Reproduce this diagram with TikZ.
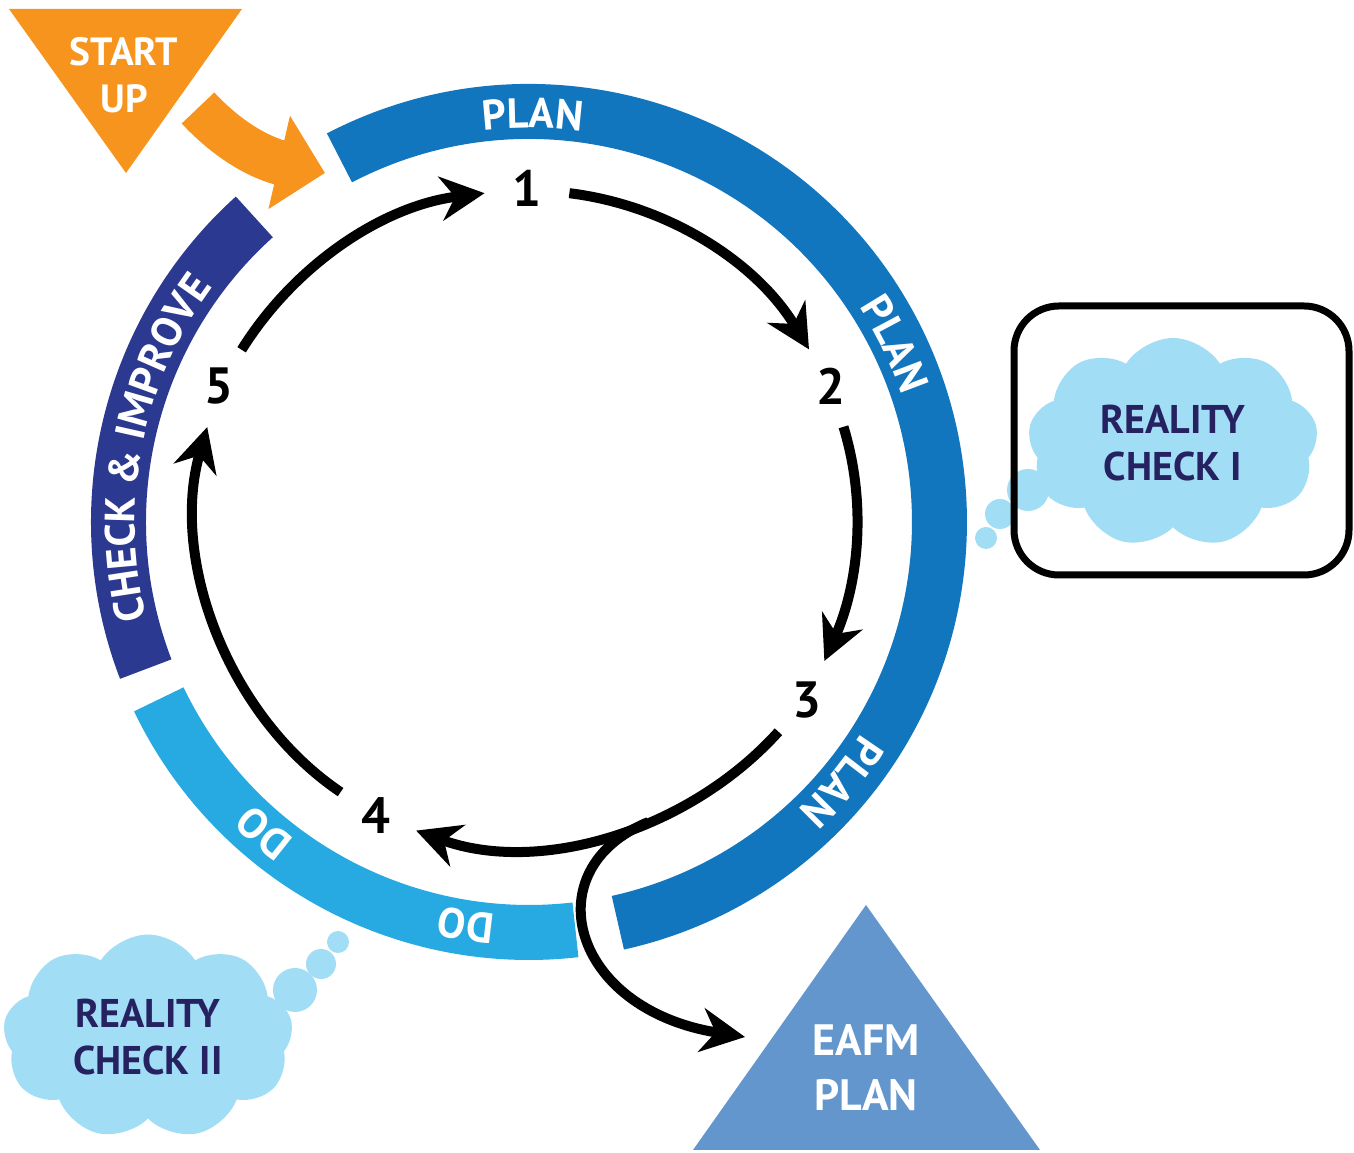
\documentclass[tikz,border=0pt]{standalone}
\usepackage{fontspec}
\setmainfont{PT Sans}
\usepackage{tikz}
\usetikzlibrary{arrows.meta, positioning, calc, shapes.symbols, decorations.text}

\definecolor{plancol}{HTML}{1276BE}
\definecolor{checkcol}{HTML}{2B3990}
\definecolor{docol}{HTML}{27AAE1}
\definecolor{startcol}{HTML}{F7941D}
\definecolor{cloudcol}{HTML}{A1DEF5}
\definecolor{navy}{HTML}{262262}
\definecolor{eafmcol}{HTML}{6396CC}

\begin{document}
\begin{tikzpicture}[
        flow/.style={-{Stealth[length=0.44cm, width=0.44cm]}, line width=0.1cm, looseness=0.9},
        num/.style={circle, minimum size=0.84cm, inner sep=0pt, font=\fontsize{14.5}{16}\selectfont\bfseries},
        ringtext/.style={decorate, decoration={text along path, text align=center,
            text={|\fontsize{12}{14}\selectfont\bfseries\color{white}|#1}}},
        thought/.style={cloud, cloud puffs=9, cloud puff arc=115, aspect=1.4, fill=cloudcol, text=navy,
            align=center, inner sep=0pt, font=\fontsize{11.4}{13.4}\selectfont\bfseries}
    ]
        \useasboundingbox (-5.29,-6.31) rectangle (8.25,5.22);

        % Anello esterno: PLAN, DO, CHECK & IMPROVE
        \draw[plancol, line width=0.55cm] (117.5:4.105) arc[start angle=117.5, end angle=-77.5, radius=4.105];
        \draw[checkcol, line width=0.55cm] (201:4.105) arc[start angle=201, end angle=132, radius=4.105];
        \draw[docol, line width=0.55cm] (276.5:4.105) arc[start angle=276.5, end angle=205.6, radius=4.105];

        % Scritte lungo l'anello
        \path[ringtext=PLAN] (109.5:3.94) arc[start angle=109.5, end angle=69.5, radius=3.94];
        \path[ringtext=PLAN] (45.9:3.94) arc[start angle=45.9, end angle=5.9, radius=3.94];
        \path[ringtext=PLAN] (-19.7:3.94) arc[start angle=-19.7, end angle=-59.7, radius=3.94];
        \path[ringtext=DO] (249.5:3.94) arc[start angle=249.5, end angle=209.5, radius=3.94];
        \path[ringtext=DO] (281.1:3.94) arc[start angle=281.1, end angle=241.1, radius=3.94];
        \path[ringtext={CHECK {\&} IMPROVE}] (203.8:3.94) arc[start angle=203.8, end angle=133.8, radius=3.94];

        % Start up
        \fill[startcol] (-5.20,5.13) -- (-2.87,5.13) -- (-4.03,3.49) -- cycle;
        \node[font=\fontsize{11.2}{13.4}\selectfont\bfseries, text=white, align=center] (startup) at (-4.05,4.465) {START\\UP};
        \coordinate (startout) at (-3.31,4.14);
        \coordinate (ringin) at (-2.04,3.49);
        \draw[startcol, line width=0.45cm, -{Triangle[length=0.47cm, width=0.93cm]}] (startout) to[out=-47, in=167] (ringin);

        % Passi del ciclo
        \node[num] (n1) at (-0.02,3.34) {1};
        \node[num] (n2) at (3.02,1.36) {2};
        \node[num] (n3) at (2.78,-1.78) {3};
        \node[num] (n4) at (-1.53,-2.94) {4};
        \node[num] (n5) at (-3.10,1.36) {5};

        % Frecce
        \draw[flow] (n1) to[out=-7, in=121] (n2);
        \draw[flow] (n2) to[out=-73, in=66] (n3);
        \draw[flow] (n3) to[out=-132, in=-20] coordinate[pos=0.4] (split) (n4);
        \draw[flow] (n4) to[out=146, in=-106] (n5);
        \draw[flow] (n5) to[out=58, in=187] (n1);

        % EAFM plan
        \fill[eafmcol] (3.37,-3.83) -- (5.11,-6.28) -- (1.64,-6.28) -- cycle;
        \node[font=\fontsize{12.5}{15.6}\selectfont\bfseries, text=white, align=center] (eafm) at (3.37,-5.455) {EAFM\\PLAN};
        \coordinate (eafmin) at (2.16,-5.15);
        \draw[flow] (split) .. controls +(-158:1.24) and +(171:1.77) .. (eafmin);

        % Reality check I
        \node[thought, minimum width=2.9cm, minimum height=2.1cm] (rc1) at (6.44,0.79) {REALITY\\CHECK I};
        \fill[cloudcol] (4.99,0.32) circle (0.21);
        \fill[cloudcol] (4.71,0.08) circle (0.15);
        \fill[cloudcol] (4.57,-0.16) circle (0.11);
        \draw[line width=0.07cm, rounded corners=0.45cm] (4.85,2.16) rectangle (8.20,-0.53);

        % Reality check II
        \node[thought, minimum width=2.9cm, minimum height=2.05cm] (rc2) at (-3.81,-5.15) {REALITY\\CHECK II};
        \fill[cloudcol] (-2.34,-4.68) circle (0.22);
        \fill[cloudcol] (-2.08,-4.42) circle (0.15);
        \fill[cloudcol] (-1.91,-4.20) circle (0.11);
    \end{tikzpicture}
\end{document}
